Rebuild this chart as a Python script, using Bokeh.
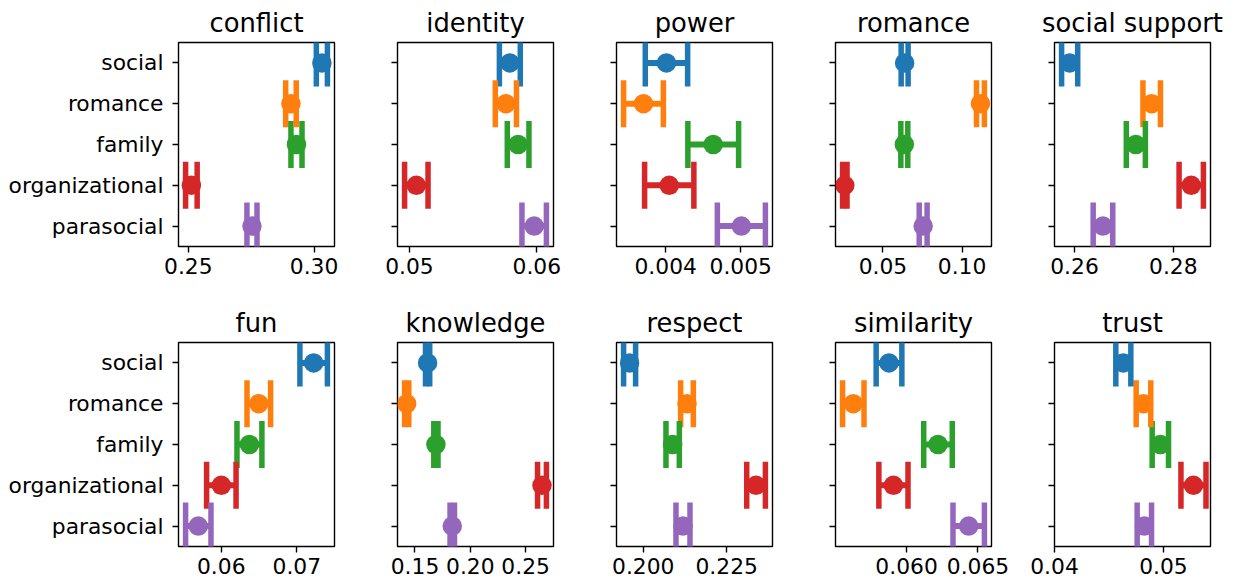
import math
from bokeh.plotting import figure
from bokeh.layouts import column, row
from bokeh.models import Range1d, FixedTicker, PrintfTickFormatter, ColumnDataSource
from bokeh.embed import file_html
from bokeh.resources import INLINE

# ---------------- data ----------------
categories = ["social", "romance", "family", "organizational", "parasocial"]
colors = ["#1f77b4", "#ff7f0e", "#2ca02c", "#d62728", "#9467bd"]
panels = ["conflict", "identity", "power", "romance", "social support",
          "fun", "knowledge", "respect", "similarity", "trust"]

conflict_mean = [0.3031, 0.2908, 0.2930, 0.2512, 0.2753]
conflict_err = [0.0022, 0.0021, 0.0022, 0.0023, 0.0020]
identity_mean = [0.05788, 0.05757, 0.05853, 0.05054, 0.05979]
identity_err = [0.00082, 0.00083, 0.00085, 0.00092, 0.00096]
power_mean = [0.004010, 0.003704, 0.004633, 0.004047, 0.005008]
power_err = [0.000282, 0.000265, 0.000338, 0.000328, 0.000320]
romance_mean = [0.0637, 0.1116, 0.0635, 0.0259, 0.0754]
romance_err = [0.0022, 0.0025, 0.0022, 0.0014, 0.0025]
support_mean = [0.25902, 0.27562, 0.27241, 0.28362, 0.26576]
support_err = [0.00163, 0.00177, 0.00193, 0.00246, 0.00198]
fun_mean = [0.07223, 0.06497, 0.06373, 0.06001, 0.05696]
fun_err = [0.00182, 0.00156, 0.00165, 0.00195, 0.00168]
knowledge_mean = [0.1614, 0.1425, 0.1689, 0.2648, 0.1837]
knowledge_err = [0.0019, 0.0019, 0.0019, 0.0040, 0.0020]
respect_mean = [0.1959, 0.2131, 0.2088, 0.2338, 0.2119]
respect_err = [0.0018, 0.0019, 0.0020, 0.0028, 0.0021]
similarity_mean = [0.05877, 0.05627, 0.06220, 0.05908, 0.06435]
similarity_err = [0.00090, 0.00075, 0.00100, 0.00102, 0.00110]
trust_mean = [0.04632, 0.04817, 0.04972, 0.05276, 0.04825]
trust_err = [0.00069, 0.00067, 0.00075, 0.00115, 0.00066]

conflict_ticks = ["0.25", "0.30"]
identity_ticks = ["0.05", "0.06"]
power_ticks = ["0.004", "0.005"]
romance_ticks = ["0.05", "0.10"]
support_ticks = ["0.26", "0.28"]
fun_ticks = ["0.06", "0.07"]
knowledge_ticks = ["0.15", "0.20", "0.25"]
respect_ticks = ["0.200", "0.225"]
similarity_ticks = ["0.060", "0.065"]
trust_ticks = ["0.04", "0.05"]

means = [conflict_mean, identity_mean, power_mean, romance_mean, support_mean,
         fun_mean, knowledge_mean, respect_mean, similarity_mean, trust_mean]
errs = [conflict_err, identity_err, power_err, romance_err, support_err,
        fun_err, knowledge_err, respect_err, similarity_err, trust_err]
ticks = [conflict_ticks, identity_ticks, power_ticks, romance_ticks, support_ticks,
         fun_ticks, knowledge_ticks, respect_ticks, similarity_ticks, trust_ticks]
x_start_override = {"trust": 0.04}

# ---------------- layout ----------------
FONT = "DejaVu Sans"
col_left = [178, 33, 33, 33, 33]
col_right = [30, 30, 30, 30, 26]
FRAME_W, FRAME_H = 156, 205
row_top = [41, 41]
row_bottom = [54, 42]


def make_panel(i):
    r, c = divmod(i, 5)
    name = panels[i]
    m, e = means[i], errs[i]
    lo = [a - b for a, b in zip(m, e)]
    hi = [a + b for a, b in zip(m, e)]
    xmin, xmax = min(lo), max(hi)
    pad = 0.05 * (xmax - xmin)
    start = x_start_override.get(name, xmin - pad)
    end = xmax + pad
    ys = list(range(len(categories)))

    p = figure(
        width=col_left[c] + FRAME_W + col_right[c],
        height=row_top[r] + FRAME_H + row_bottom[r],
        x_range=Range1d(start, end), y_range=Range1d(len(categories) - 0.5, -0.5),
        output_backend="svg", toolbar_location=None, tools="",
        min_border_left=col_left[c], min_border_right=col_right[c],
        min_border_top=row_top[r], min_border_bottom=row_bottom[r],
        title=name,
    )
    p.title.text_font = FONT
    p.title.text_font_size = "25.8px"
    p.title.text_font_style = "normal"
    p.title.text_line_height = 0.7
    p.title.align = "center"
    p.title.text_color = "black"
    p.title.standoff = 10
    p.title.offset = 0

    src = ColumnDataSource(dict(y=ys, m=m, lo=lo, hi=hi, color=colors))
    p.segment(x0="lo", y0="y", x1="hi", y1="y", line_width=6, line_color="color", source=src)
    p.scatter(x="lo", y="y", marker="dash", angle=math.pi / 2, size=47, line_width=5.5,
              line_color="color", fill_color=None, source=src)
    p.scatter(x="hi", y="y", marker="dash", angle=math.pi / 2, size=47, line_width=5.5,
              line_color="color", fill_color=None, source=src)
    p.scatter(x="m", y="y", marker="circle", size=19.5, fill_color="color",
              line_color=None, source=src)

    tick_vals = [float(t) for t in ticks[i]]
    decimals = len(ticks[i][0].split(".")[1])
    p.xaxis.ticker = FixedTicker(ticks=tick_vals)
    p.xaxis.formatter = PrintfTickFormatter(format="%%.%df" % decimals)
    p.yaxis.ticker = FixedTicker(ticks=ys)
    if c == 0:
        p.yaxis.major_label_overrides = {k: categories[k] for k in ys}
    else:
        p.yaxis.major_label_overrides = {k: "" for k in ys}

    for ax in (p.xaxis[0], p.yaxis[0]):
        ax.axis_line_color = None
        ax.major_tick_out = 6
        ax.major_tick_in = 0
        ax.major_tick_line_width = 1.4
        ax.major_tick_line_color = "black"
        ax.minor_tick_line_color = None
        ax.major_label_text_font = FONT
        ax.major_label_text_font_size = "21.8px"
        ax.major_label_text_color = "black"
    p.xaxis.major_label_standoff = 5
    p.yaxis.major_label_standoff = 9

    p.xgrid.grid_line_color = None
    p.ygrid.grid_line_color = None
    p.outline_line_color = "black"
    p.outline_line_width = 1.4
    p.outline_line_alpha = 1.0
    p.background_fill_color = "white"
    p.border_fill_color = "white"
    return p


figs = [make_panel(i) for i in range(len(panels))]
layout = column(row(*figs[:5]), row(*figs[5:]))

open("out.html", "w").write(file_html(layout, INLINE))
